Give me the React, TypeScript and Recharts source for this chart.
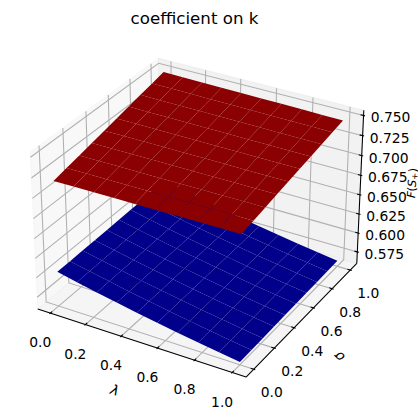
import { Scatter, ScatterChart, XAxis, YAxis } from "recharts";

const LAMBDA_GRID = [0, 0.111, 0.222, 0.333, 0.444, 0.556, 0.667, 0.778, 0.889, 1];
const SIGMA_GRID = [0, 0.111, 0.222, 0.333, 0.444, 0.556, 0.667, 0.778, 0.889, 1];

// rows follow sigma, columns follow lambda
const RED_Z = [
  [0.718, 0.7182, 0.7184, 0.7187, 0.7189, 0.7191, 0.7193, 0.7196, 0.7198, 0.72],
  [0.7216, 0.7218, 0.7219, 0.7221, 0.7222, 0.7224, 0.7225, 0.7227, 0.7228, 0.723],
  [0.7251, 0.7252, 0.7253, 0.7254, 0.7255, 0.7256, 0.7257, 0.7258, 0.7259, 0.726],
  [0.7287, 0.7287, 0.7288, 0.7288, 0.7288, 0.7289, 0.7289, 0.7289, 0.729, 0.729],
  [0.7322, 0.7322, 0.7322, 0.7321, 0.7321, 0.7321, 0.7321, 0.732, 0.732, 0.732],
  [0.7358, 0.7357, 0.7356, 0.7355, 0.7354, 0.7354, 0.7353, 0.7352, 0.7351, 0.735],
  [0.7393, 0.7392, 0.739, 0.7389, 0.7387, 0.7386, 0.7384, 0.7383, 0.7381, 0.738],
  [0.7429, 0.7427, 0.7425, 0.7423, 0.7421, 0.7418, 0.7416, 0.7414, 0.7412, 0.741],
  [0.7464, 0.7461, 0.7459, 0.7456, 0.7453, 0.7451, 0.7448, 0.7445, 0.7443, 0.744],
  [0.75, 0.7497, 0.7493, 0.749, 0.7487, 0.7483, 0.748, 0.7477, 0.7473, 0.747],
];

const BLUE_Z = [
  [0.604, 0.5986, 0.5935, 0.5885, 0.5838, 0.5792, 0.5749, 0.5707, 0.5668, 0.563],
  [0.6043, 0.5989, 0.5939, 0.5889, 0.5842, 0.5796, 0.5753, 0.5711, 0.5672, 0.5634],
  [0.6047, 0.5993, 0.5942, 0.5893, 0.5846, 0.58, 0.5757, 0.5715, 0.5676, 0.5639],
  [0.605, 0.5996, 0.5945, 0.5896, 0.5849, 0.5804, 0.5761, 0.5719, 0.568, 0.5643],
  [0.6053, 0.5999, 0.5949, 0.59, 0.5853, 0.5808, 0.5765, 0.5723, 0.5685, 0.5648],
  [0.6057, 0.6003, 0.5952, 0.5903, 0.5857, 0.5811, 0.5769, 0.5727, 0.5689, 0.5652],
  [0.606, 0.6006, 0.5955, 0.5907, 0.586, 0.5815, 0.5773, 0.5732, 0.5693, 0.5656],
  [0.6063, 0.6009, 0.5959, 0.591, 0.5864, 0.5819, 0.5777, 0.5736, 0.5698, 0.5661],
  [0.6066, 0.6012, 0.5962, 0.5913, 0.5867, 0.5822, 0.5781, 0.574, 0.5702, 0.5665],
  [0.607, 0.6016, 0.5965, 0.5917, 0.5871, 0.5826, 0.5785, 0.5744, 0.5706, 0.567],
];

const LAMBDA_TICKS = [0, 0.2, 0.4, 0.6, 0.8, 1];
const SIGMA_TICKS = [0, 0.2, 0.4, 0.6, 0.8, 1];
const Z_TICKS = [0.575, 0.6, 0.625, 0.65, 0.675, 0.7, 0.725, 0.75];

const W = 418;
const H = 420;
const FONT = "DejaVu Sans";
const TICK_SIZE = 13.89;

// pane limits of the three axes
const L_LIM = [-0.0729, 1.0729];
const S_LIM = [-0.0729, 1.0729];
const Z_LIM = [0.5596, 0.7564];

// matplotlib's default 3d camera: elev 30, azim -60, dist 10, box 4:4:3
const BOX = [1.1905, 1.1905, 0.8929];
const CAM_U = [0.866, 0.5, 0];
const CAM_V = [-0.25, 0.433, 0.866];
const CAM_W = [0.433, -0.75, 0.5];
const dot = (a: number[], b: number[]) => a[0] * b[0] + a[1] * b[1] + a[2] * b[2];

// where the view centre sits on the canvas and how big one view unit is
const PX_PER_UNIT = 2005;
const CENTRE_X = 200.2;
const CENTRE_Y = 210;
const X_DOMAIN = [-CENTRE_X / PX_PER_UNIT, (W - CENTRE_X) / PX_PER_UNIT];
const Y_DOMAIN = [(CENTRE_Y - H) / PX_PER_UNIT, CENTRE_Y / PX_PER_UNIT];

type P3 = [number, number, number];

function project([l, s, z]: P3) {
  const q = [
    ((l - L_LIM[0]) / (L_LIM[1] - L_LIM[0]) - 0.5) * BOX[0],
    ((s - S_LIM[0]) / (S_LIM[1] - S_LIM[0]) - 0.5) * BOX[1],
    ((z - Z_LIM[0]) / (Z_LIM[1] - Z_LIM[0]) - 0.5) * BOX[2],
  ];
  const d = 10 - dot(CAM_W, q);
  return { x: dot(CAM_U, q) / d, y: dot(CAM_V, q) / d };
}

function polygon(key: string, corners: P3[], fill: string, extra: object = {}) {
  return (
    <Scatter
      key={key}
      data={corners.map(project)}
      dataKey="y"
      isAnimationActive={false}
      shape={() => null}
      line={(p: any) => (
        <polygon
          key={key}
          points={p.points.map((pt: any) => `${pt.x},${pt.y}`).join(" ")}
          fill={fill}
          {...extra}
        />
      )}
    />
  );
}

function polyline(key: string, corners: P3[], stroke: string, strokeWidth: number) {
  return (
    <Scatter
      key={key}
      data={corners.map(project)}
      dataKey="y"
      isAnimationActive={false}
      shape={() => null}
      line={{ stroke, strokeWidth }}
    />
  );
}

function label(key: string, at: P3, text: string, dx: number, dy: number) {
  return (
    <Scatter
      key={key}
      data={[{ ...project(at), text }]}
      dataKey="y"
      isAnimationActive={false}
      shape={(p: any) => (
        <text
          x={p.cx + dx}
          y={p.cy + dy}
          fontFamily={FONT}
          fontSize={TICK_SIZE}
          fill="#000"
          textAnchor="middle"
          dominantBaseline="central"
        >
          {p.payload.text}
        </text>
      )}
    />
  );
}

function surface(name: string, zs: number[][], fill: string) {
  const cells = [];
  for (let j = SIGMA_GRID.length - 2; j >= 0; j--) {
    for (let i = 0; i < LAMBDA_GRID.length - 1; i++) {
      cells.push(
        polygon(
          `${name}-${i}-${j}`,
          [
            [LAMBDA_GRID[i], SIGMA_GRID[j], zs[j][i]],
            [LAMBDA_GRID[i + 1], SIGMA_GRID[j], zs[j][i + 1]],
            [LAMBDA_GRID[i + 1], SIGMA_GRID[j + 1], zs[j + 1][i + 1]],
            [LAMBDA_GRID[i], SIGMA_GRID[j + 1], zs[j + 1][i]],
          ],
          fill,
        ),
      );
    }
  }
  return cells;
}

const GRID = "#b0b0b0";
const GRID_W = 1.07;
const AXIS_W = 0.8 * 1.333;

export default function App() {
  const [l0, l1] = L_LIM;
  const [s0, s1] = S_LIM;
  const [z0, z1] = Z_LIM;
  return (
    <div style={{ position: "absolute", left: 0, top: 0, width: W, height: H }}>
      <ScatterChart width={W} height={H} margin={{ top: 0, right: 0, bottom: 0, left: 0 }}>
        <XAxis type="number" dataKey="x" domain={X_DOMAIN} hide allowDataOverflow />
        <YAxis type="number" dataKey="y" domain={Y_DOMAIN} hide allowDataOverflow />

        {polygon("pane-l", [[l0, s0, z0], [l0, s1, z0], [l0, s1, z1], [l0, s0, z1]], "rgba(242,242,242,0.5)", { stroke: "rgba(242,242,242,0.5)" })}
        {polygon("pane-s", [[l0, s1, z0], [l1, s1, z0], [l1, s1, z1], [l0, s1, z1]], "rgba(230,230,230,0.5)", { stroke: "rgba(230,230,230,0.5)" })}
        {polygon("pane-z", [[l0, s0, z0], [l1, s0, z0], [l1, s1, z0], [l0, s1, z0]], "rgba(236,236,236,0.5)", { stroke: "rgba(236,236,236,0.5)" })}

        {LAMBDA_TICKS.map((t) => polyline(`grid-l-${t}`, [[t, s0, z0], [t, s1, z0], [t, s1, z1]], GRID, GRID_W))}
        {SIGMA_TICKS.map((t) => polyline(`grid-s-${t}`, [[l1, t, z0], [l0, t, z0], [l0, t, z1]], GRID, GRID_W))}
        {Z_TICKS.map((t) => polyline(`grid-z-${t}`, [[l0, s0, t], [l0, s1, t], [l1, s1, t]], GRID, GRID_W))}

        {polyline("axis-l", [[l0, s0, z0], [l1, s0, z0]], "#000", AXIS_W)}
        {polyline("axis-s", [[l1, s0, z0], [l1, s1, z0]], "#000", AXIS_W)}
        {polyline("axis-z", [[l1, s1, z0], [l1, s1, z1]], "#000", AXIS_W)}

        {LAMBDA_TICKS.map((t) => polyline(`tick-l-${t}`, [[t, s0 - 0.008, z0], [t, s0 + 0.016, z0]], "#000", AXIS_W))}
        {SIGMA_TICKS.map((t) => polyline(`tick-s-${t}`, [[l1 + 0.008, t, z0], [l1 - 0.016, t, z0]], "#000", AXIS_W))}
        {Z_TICKS.map((t) => polyline(`tick-z-${t}`, [[l1 + 0.008, s1, t], [l1 - 0.016, s1, t]], "#000", AXIS_W))}

        {surface("blue", BLUE_Z, "#00008b")}
        {surface("red", RED_Z, "#8b0000")}

        {LAMBDA_TICKS.map((t) => label(`lab-l-${t}`, [t, s0, z0], t.toFixed(1), -10, 29))}
        {SIGMA_TICKS.map((t) => label(`lab-s-${t}`, [l1, t, z0], t.toFixed(1), 18, 23))}
        {Z_TICKS.map((t) => label(`lab-z-${t}`, [l1, s1, t], t.toFixed(3), 27, 2))}

        <text x={194.5} y={18} fontFamily={FONT} fontSize={16.67} textAnchor="middle" dominantBaseline="central" fill="#000">
          coefficient on k
        </text>
        <text transform="translate(115,390) rotate(18)" fontFamily={FONT} fontStyle="italic" fontSize={TICK_SIZE} textAnchor="middle" dominantBaseline="central" fill="#000">
          λ
        </text>
        <text transform="translate(339,357) rotate(-135)" fontFamily={FONT} fontStyle="italic" fontSize={TICK_SIZE} textAnchor="middle" dominantBaseline="central" fill="#000">
          σ
        </text>
        <text transform="translate(412,183) rotate(-86)" fontFamily={FONT} fontSize={11.5} textAnchor="middle" dominantBaseline="central" fill="#000">
          <tspan fontStyle="italic">F</tspan>(<tspan fontStyle="italic">S</tspan>
          <tspan fontSize={8.5} dy={2}>+</tspan>
          <tspan dy={-2}>)</tspan>
        </text>
      </ScatterChart>
    </div>
  );
}
